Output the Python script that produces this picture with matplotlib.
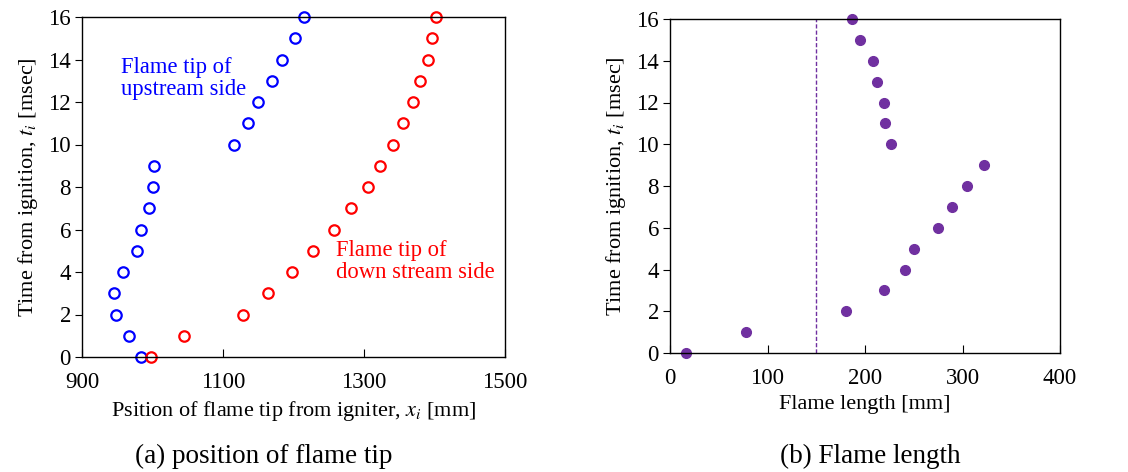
#!/usr/bin/env python3

import matplotlib.pyplot as plt
import numpy as np

plt.rcParams['font.family'] = ['Liberation Serif', 'DejaVu Serif']
plt.rcParams['mathtext.fontset'] = 'stix'

# Data
time_ms = np.arange(0, 17)
upstream_tip = [983, 967, 948, 945, 958, 978, 983, 995, 1000, 1002,
                1115, 1135, 1149, 1169, 1183, 1202, 1215]
downstream_tip = [998, 1045, 1129, 1164, 1198, 1227, 1257, 1282, 1306, 1323,
                  1341, 1355, 1369, 1380, 1391, 1397, 1402]
flame_length = [16, 78, 181, 219, 241, 250, 275, 289, 305, 322,
                227, 221, 219, 212, 208, 195, 187]
ref_length = 150

x_ticks_a = [900, 1100, 1300, 1500]
x_ticks_b = [0, 100, 200, 300, 400]
y_ticks = [0, 2, 4, 6, 8, 10, 12, 14, 16]

W, H = 1128, 472
fig = plt.figure(figsize=(W / 100, H / 100), dpi=100)

def px_axes(x0, y0, x1, y1):
    return fig.add_axes([x0 / W, 1 - y1 / H, (x1 - x0) / W, (y1 - y0) / H])

def style(ax):
    for s in ax.spines.values():
        s.set_linewidth(1.0)
        s.set_color('black')
    ax.tick_params(axis='x', direction='in', length=6, labelsize=16.5, pad=11)
    ax.tick_params(axis='y', direction='out', length=5, labelsize=16.5, pad=3)
    ax.set_ylim(0, 16)
    ax.set_yticks(y_ticks)
    ax.set_ylabel("Time from ignition, $t_i$ [msec]", fontsize=16, labelpad=6)

# (a) position of flame tip
ax1 = px_axes(82, 17, 505, 357)
ax1.plot(upstream_tip, time_ms, 'o', ls='none', mfc='none', mec='#0000ff',
         ms=7.5, mew=1.6, clip_on=False)
ax1.plot(downstream_tip, time_ms, 'o', ls='none', mfc='none', mec='#ff0000',
         ms=7.5, mew=1.6, clip_on=False)
ax1.set_xlim(900, 1500)
ax1.set_xticks(x_ticks_a)
style(ax1)
ax1.set_xlabel("Psition of flame tip from igniter, $x_i$ [mm]", fontsize=16, labelpad=4)
ax1.text(956, 13.1, "Flame tip of\nupstream side", color='#0000ff',
         fontsize=16.3, va='center', ha='left', linespacing=1.1)
ax1.text(1260, 4.5, "Flame tip of\ndown stream side", color='#ff0000',
         fontsize=16.3, va='center', ha='left', linespacing=1.1)

# (b) flame length
ax2 = px_axes(670, 19, 1060, 353)
ax2.plot(flame_length, time_ms, 'o', ls='none', color='#7030a0', ms=7,
         clip_on=False)
ax2.axvline(ref_length, color='#7030a0', ls='--', lw=1.0, dashes=(3, 1.5))
ax2.set_xlim(0, 400)
ax2.set_xticks(x_ticks_b)
style(ax2)
ax2.set_xlabel("Flame length [mm]", fontsize=16, labelpad=4)

fig.text(264 / W, 1 - 456 / H, "(a) position of flame tip", fontsize=19.5,
         ha='center', va='center')
fig.text(870 / W, 1 - 456 / H, "(b) Flame length", fontsize=19.5,
         ha='center', va='center')

fig.savefig("out.png", dpi=100)
